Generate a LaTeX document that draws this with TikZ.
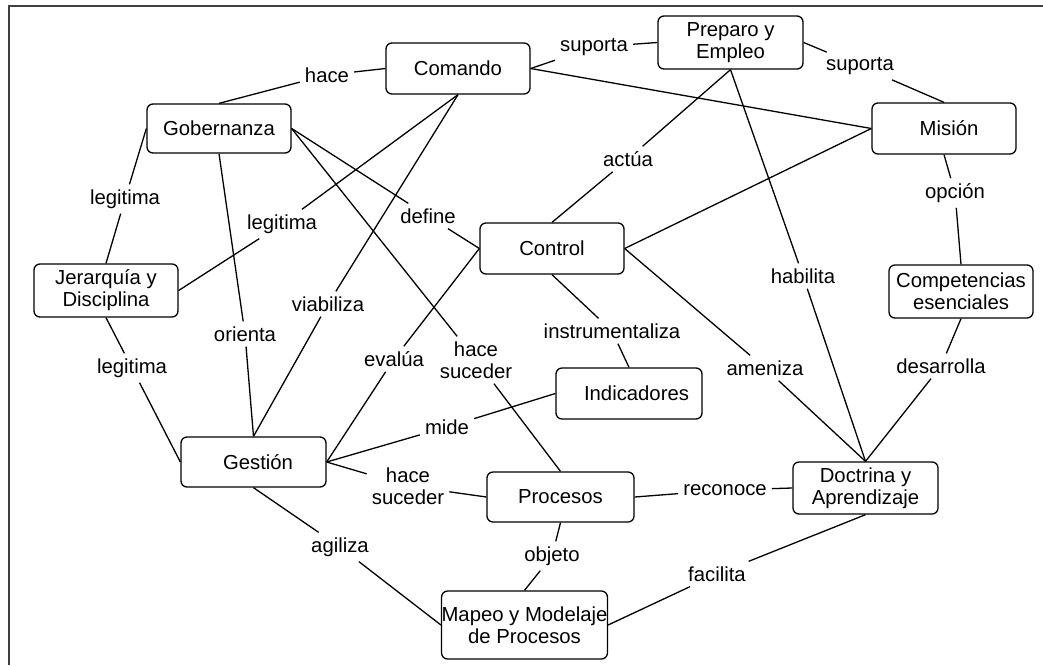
\documentclass[tikz,border=0pt]{standalone}
\usepackage{fontspec}
\setmainfont{Liberation Sans}
\begin{document}
\begin{tikzpicture}[x=1pt,y=-1pt,
  concept/.style={draw, rounded corners=6pt, line width=1.3pt, align=center,
    inner sep=0pt, minimum width=145pt, minimum height=51pt,
    font=\fontsize{20.3}{22}\selectfont},
  link/.style={inner sep=5pt, align=center, font=\fontsize{20.3}{22}\selectfont},
  conn/.style={line width=1.3pt}]
\useasboundingbox (0,0) rectangle (1043,665);
% page frame
\draw[line width=2pt, black!75] (8.5,665) -- (8.5,6) -- (1043,6);

% concepts
\node[concept, minimum width=144pt] (comando) at (458,68.5) {Comando};
\node[concept, minimum height=53pt] (preparo) at (730.5,42.5) {Preparo y\\Empleo};
\node[concept, minimum width=144pt] (mision) at (944,128.5) {\hspace{10pt}Misión};
\node[concept, minimum width=144pt, minimum height=49pt] (gobernanza) at (219,128.5) {Gobernanza};
\node[concept, minimum width=144pt, minimum height=53pt] (jerarquia) at (106,290.5) {Jerarquía y\\Disciplina};
\node[concept, minimum width=144pt] (control) at (552,248.5) {Control};
\node[concept, minimum width=144pt, minimum height=53pt] (competencias) at (961,291.5) {Competencias\\esenciales};
\node[concept, minimum height=50pt] (gestion) at (253.5,462) {\hspace{9pt}Gestión};
\node[concept, minimum width=146pt] (indicadores) at (629,393.5) {\hspace{15pt}Indicadores};
\node[concept, minimum width=147pt, minimum height=50pt] (procesos) at (560.5,497) {Procesos};
\node[concept, minimum height=52pt] (doctrina) at (865.5,488) {Doctrina y\\Aprendizaje};
\node[concept, minimum width=163pt, minimum height=68pt] (mapeo) at (524.5,625) {Mapeo y Modelaje\\de Procesos};

% linking phrases
\node[link] (hace) at (327,75) {hace};
\node[link] (suportaA) at (594,47) {suporta};
\node[link] (suportaB) at (860,66) {suporta};
\node[link] (legitimaC) at (282,224) {legitima};
\node[link] (viabiliza) at (328,304) {viabiliza};
\node[link] (define) at (428,216) {define};
\node[link] (haceA) at (476,360) {hace\\suceder};
\node[link] (legitimaL) at (125,199) {legitima};
\node[link] (orienta) at (245,334) {orienta};
\node[link] (legitimaB) at (132,368) {legitima};
\node[link] (evalua) at (394,359) {evalúa};
\node[link] (instrumentaliza) at (612,331) {instrumentaliza};
\node[link] (ameniza) at (765,368) {ameniza};
\node[link] (actua) at (628,159) {actúa};
\node[link] (habilita) at (803,276) {habilita};
\node[link] (opcion) at (955,193) {opción};
\node[link] (desarrolla) at (941,366) {desarrolla};
\node[link] (mide) at (447,427) {mide};
\node[link] (haceB) at (408,486) {hace\\suceder};
\node[link] (reconoce) at (725,490) {reconoce};
\node[link] (objeto) at (552,556) {objeto};
\node[link] (agiliza) at (340,547) {agiliza};
\node[link] (facilita) at (717,574) {facilita};

% connections
\draw[conn] (gobernanza.north) -- (hace) -- (comando.west);
\draw[conn] (comando.east) -- (suportaA) -- (preparo.west);
\draw[conn] (preparo.east) -- (suportaB) -- (mision.north);
\draw[conn] (comando.east) -- (mision.west);
\draw[conn] (control.east) -- (mision.west);
\draw[conn] (comando.south) -- (legitimaC) -- (jerarquia.east);
\draw[conn] (comando.south) -- (viabiliza) -- (gestion.north);
\draw[conn] (gobernanza.east) -- (define) -- (control.west);
\draw[conn] (gobernanza.east) -- (haceA) -- (procesos.north);
\draw[conn] (gobernanza.west) -- (legitimaL) -- (jerarquia.north);
\draw[conn] (gobernanza.south) -- (orienta) -- (gestion.north);
\draw[conn] (jerarquia.south) -- (legitimaB) -- (gestion.west);
\draw[conn] (control.west) -- (evalua) -- (gestion.east);
\draw[conn] (control.south) -- (instrumentaliza) -- (indicadores.north);
\draw[conn] (control.east) -- (ameniza) -- (doctrina.north);
\draw[conn] (preparo.south) -- (actua) -- (control.north);
\draw[conn] (preparo.south) -- (habilita) -- (doctrina.north);
\draw[conn] (mision.south) -- (opcion) -- (competencias.north);
\draw[conn] (competencias.south) -- (desarrolla) -- (doctrina.north);
\draw[conn] (indicadores.west) -- (mide) -- (gestion.east);
\draw[conn] (procesos.west) -- (haceB) -- (gestion.east);
\draw[conn] (procesos.east) -- (reconoce) -- (doctrina.west);
\draw[conn] (procesos.south) -- (objeto) -- (mapeo.north);
\draw[conn] (gestion.south) -- (agiliza) -- (mapeo.west);
\draw[conn] (doctrina.south) -- (facilita) -- (mapeo.east);
\end{tikzpicture}
\end{document}
